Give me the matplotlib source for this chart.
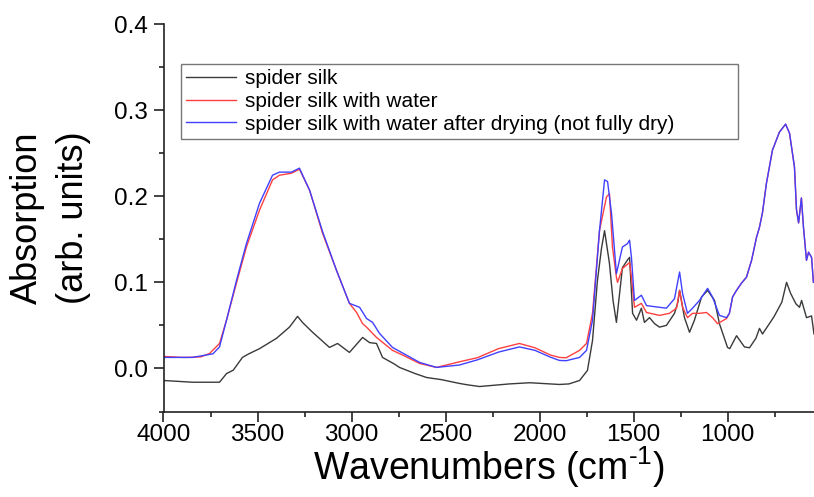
import matplotlib
matplotlib.use("Agg")
import matplotlib.pyplot as plt
from matplotlib.ticker import MultipleLocator

plt.rcParams['font.family'] = ['Liberation Sans', 'DejaVu Sans']
plt.rcParams['mathtext.fontset'] = 'custom'
plt.rcParams['mathtext.rm'] = 'Liberation Sans'

# spider silk (dry)
silk_wn = [4000, 3846, 3768, 3702, 3665, 3629, 3580, 3546, 3489, 3399, 3330, 3287, 3261,
           3207, 3117, 3074, 3011, 2941, 2904, 2867, 2835, 2771, 2745, 2661, 2601, 2522,
           2426, 2384, 2319, 2162, 2052, 1941, 1894, 1844, 1787, 1745, 1718, 1692, 1670,
           1654, 1628, 1609, 1591, 1559, 1532, 1521, 1505, 1484, 1458, 1442, 1415, 1388,
           1362, 1325, 1282, 1264, 1255, 1229, 1202, 1176, 1138, 1106, 1069, 1043, 1000,
           988, 952, 910, 883, 849, 830, 814, 753, 711, 686, 664, 636, 617, 606, 580, 553,
           540]
silk_abs = [-0.014, -0.016, -0.016, -0.016, -0.006, -0.002, 0.0128, 0.017, 0.023, 0.035,
            0.048, 0.0605, 0.0535, 0.042, 0.0244, 0.029, 0.0186, 0.036, 0.030, 0.029,
            0.0128, 0.005, 0.0012, -0.006, -0.0105, -0.013, -0.0174, -0.019, -0.021,
            -0.018, -0.0166, -0.018, -0.0186, -0.018, -0.014, -0.0023, 0.0326, 0.102,
            0.140, 0.160, 0.122, 0.079, 0.0535, 0.117, 0.126, 0.129, 0.064, 0.056, 0.070,
            0.0535, 0.059, 0.052, 0.048, 0.050, 0.064, 0.077, 0.0907, 0.059, 0.042, 0.056,
            0.083, 0.0907, 0.079, 0.052, 0.0244, 0.023, 0.038, 0.025, 0.024, 0.035, 0.0465,
            0.040, 0.060, 0.077, 0.100, 0.087, 0.075, 0.071, 0.079, 0.059, 0.061, 0.040]

# spider silk with water
wet_wn = [4000, 3900, 3846, 3800, 3755, 3702, 3665, 3612, 3559, 3489, 3420, 3383, 3319,
          3277, 3223, 3154, 3080, 3011, 2973, 2941, 2920, 2867, 2782, 2716, 2638, 2548,
          2426, 2330, 2218, 2107, 2024, 1941, 1894, 1858, 1787, 1750, 1718, 1681, 1644,
          1628, 1612, 1591, 1585, 1559, 1521, 1511, 1495, 1458, 1431, 1362, 1309, 1271,
          1255, 1239, 1213, 1186, 1149, 1112, 1080, 1053, 1005, 990, 973, 952, 926, 899,
          872, 846, 830, 814, 793, 761, 724, 691, 670, 644, 633, 622, 607, 596, 580, 569,
          553, 543]
wet_abs = [0.014, 0.0128, 0.013, 0.0135, 0.0174, 0.029, 0.056, 0.099, 0.141, 0.184, 0.219,
           0.2244, 0.2267, 0.2314, 0.207, 0.157, 0.114, 0.0756, 0.065, 0.052, 0.048, 0.036,
           0.021, 0.0143, 0.0058, 0.0012, 0.0077, 0.0125, 0.023, 0.029, 0.024, 0.0155,
           0.0128, 0.0124, 0.021, 0.029, 0.064, 0.160, 0.199, 0.203, 0.141, 0.106, 0.100,
           0.116, 0.123, 0.106, 0.071, 0.0756, 0.065, 0.0616, 0.064, 0.070, 0.0907, 0.071,
           0.059, 0.064, 0.064, 0.065, 0.059, 0.052, 0.058, 0.064, 0.083, 0.0907, 0.099,
           0.106, 0.1256, 0.152, 0.164, 0.181, 0.215, 0.2535, 0.2744, 0.2837, 0.273, 0.234,
           0.184, 0.169, 0.198, 0.164, 0.1256, 0.135, 0.129, 0.10]

# spider silk with water after drying (not fully dry)
dried_wn = [4000, 3846, 3737, 3702, 3665, 3612, 3559, 3489, 3420, 3383, 3319, 3277, 3223,
            3154, 3080, 3011, 2957, 2920, 2888, 2851, 2782, 2638, 2548, 2426, 2330, 2218,
            2107, 2024, 1941, 1894, 1858, 1787, 1750, 1718, 1681, 1654, 1638, 1617, 1591,
            1559, 1532, 1521, 1511, 1495, 1458, 1431, 1362, 1325, 1282, 1255, 1239, 1213,
            1186, 1149, 1106, 1080, 1043, 1005, 990, 973, 952, 926, 899, 872, 846, 830,
            814, 793, 761, 724, 691, 670, 644, 633, 622, 607, 596, 580, 569, 553, 543]
dried_abs = [0.0128, 0.0128, 0.017, 0.025, 0.056, 0.102, 0.145, 0.192, 0.2244, 0.228,
             0.228, 0.2326, 0.207, 0.159, 0.114, 0.0756, 0.071, 0.058, 0.0535, 0.0407,
             0.0244, 0.007, 0.0012, 0.004, 0.010, 0.019, 0.025, 0.021, 0.013, 0.0093,
             0.009, 0.0128, 0.021, 0.056, 0.160, 0.219, 0.217, 0.180, 0.110, 0.141, 0.145,
             0.149, 0.129, 0.079, 0.085, 0.073, 0.071, 0.070, 0.081, 0.112, 0.087, 0.064,
             0.070, 0.079, 0.093, 0.083, 0.0616, 0.059, 0.064, 0.083, 0.0907, 0.099, 0.106,
             0.1256, 0.152, 0.164, 0.181, 0.215, 0.2535, 0.2744, 0.2837, 0.273, 0.234,
             0.184, 0.169, 0.198, 0.164, 0.1256, 0.135, 0.129, 0.10]

labels = ["spider silk", "spider silk with water",
          "spider silk with water after drying (not fully dry)"]

fig = plt.figure(figsize=(8.14, 4.97), dpi=100)
ax = fig.add_axes([163.5 / 814, 1 - 411.5 / 497, 1 - 163.5 / 814, (411.5 - 24) / 497])

ax.plot(silk_wn, silk_abs, color="#3a3a3a", lw=1.0, label=labels[0])
ax.plot(wet_wn, wet_abs, color="#ff4040", lw=1.0, label=labels[1])
ax.plot(dried_wn, dried_abs, color="#4040ff", lw=1.0, label=labels[2])

ax.set_xlim(4000, 540)
ax.set_ylim(-0.05, 0.4)
ax.xaxis.set_major_locator(MultipleLocator(500))
ax.xaxis.set_minor_locator(MultipleLocator(250))
ax.yaxis.set_minor_locator(MultipleLocator(0.05))
ax.set_yticks([0.0, 0.1, 0.2, 0.3, 0.4])
ax.set_yticklabels(["0.0", "0.1", "0.2", "0.3", "0.4"])

for side in ("top", "right"):
    ax.spines[side].set_visible(False)
for side in ("left", "bottom"):
    ax.spines[side].set_linewidth(1.2)
    ax.spines[side].set_color("#222222")

ax.tick_params(which="major", direction="out", length=7, width=1.2, color="#222222",
               labelsize=17.5)
ax.tick_params(axis="x", which="major", pad=2)
ax.tick_params(axis="y", which="major", pad=4)
ax.tick_params(which="minor", direction="out", length=3.5, width=1.2, color="#222222")

ax.set_xlabel(r"Wavenumbers (cm$^{\text{-1}}$)", fontsize=27, labelpad=-1)
ax.set_ylabel("Absorption\n(arb. units)", fontsize=26, labelpad=17, linespacing=1.4)

leg_h = 0.01
leg = ax.legend(loc="upper left",
                bbox_to_anchor=(181 / 814, 1 - 64 / 497 - leg_h, 557 / 814, leg_h),
                bbox_transform=fig.transFigure, mode="expand", borderaxespad=0,
                fontsize=15, frameon=True, fancybox=False, handlelength=2.4,
                handletextpad=0.4, labelspacing=0.18, borderpad=0.25)
leg.get_frame().set_edgecolor("#555555")
leg.get_frame().set_linewidth(1.0)

fig.savefig("out.png", dpi=100)
